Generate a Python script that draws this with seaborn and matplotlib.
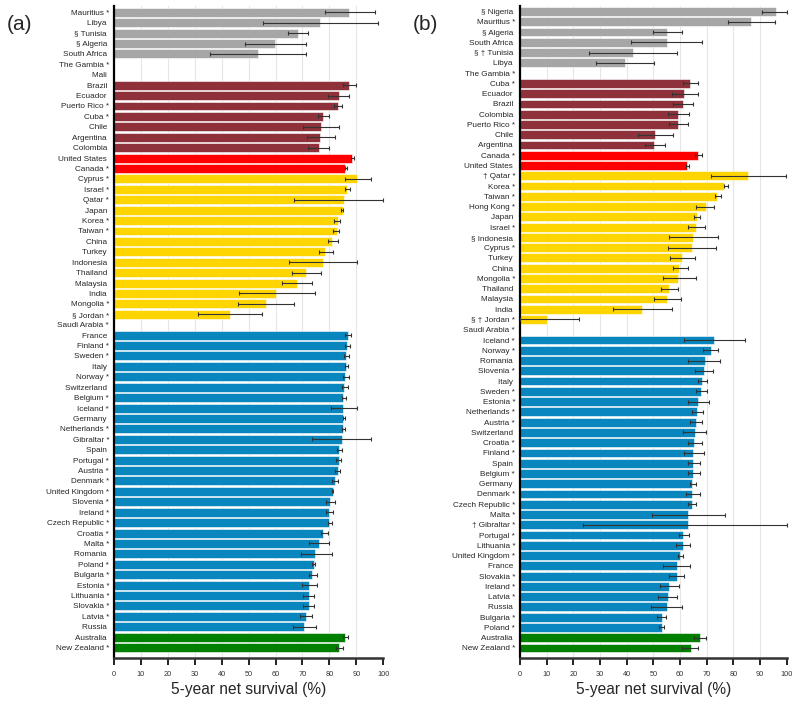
import numpy as np
import pandas as pd
import matplotlib
matplotlib.use("Agg")
import matplotlib.pyplot as plt
import seaborn as sns

nan = np.nan

# ---- panel (a) ----
countries_a = ["Mauritius *", "Libya ", "§ Tunisia ", "§ Algeria ", "South Africa ", "The Gambia *", "Mali ",
               "Brazil ", "Ecuador ", "Puerto Rico *", "Cuba *", "Chile ", "Argentina ", "Colombia ",
               "United States ", "Canada *",
               "Cyprus *", "Israel *", "Qatar *", "Japan ", "Korea *", "Taiwan *", "China ", "Turkey ",
               "Indonesia ", "Thailand ", "Malaysia ", "India ", "Mongolia *", "§ Jordan *", "Saudi Arabia *",
               "France ", "Finland *", "Sweden *", "Italy ", "Norway *", "Switzerland ", "Belgium *", "Iceland *",
               "Germany ", "Netherlands *", "Gibraltar *", "Spain ", "Portugal *", "Austria *", "Denmark *",
               "United Kingdom *", "Slovenia *", "Ireland *", "Czech Republic *", "Croatia *", "Malta *",
               "Romania ", "Poland *", "Bulgaria *", "Estonia *", "Lithuania *", "Slovakia *", "Latvia *", "Russia ",
               "Australia ", "New Zealand *"]
surv_a = [87.3, 76.6, 68.5, 59.8, 53.3, nan, nan,
          87.3, 83.4, 83.1, 77.5, 77.0, 76.6, 76.1,
          88.5, 85.9,
          90.4, 86.6, 85.4, 84.9, 83.0, 82.8, 81.1, 78.5, 77.5, 71.2, 67.9, 60.2, 56.5, 43.1, nan,
          86.8, 86.5, 86.1, 86.1, 85.9, 85.4, 85.2, 85.2, 85.2, 85.0, 84.6, 83.7, 83.6, 83.0, 82.1,
          81.3, 80.3, 80.0, 80.0, 77.8, 76.3, 74.7, 74.1, 73.7, 72.6, 72.5, 72.5, 71.2, 70.7,
          85.8, 83.6]
lo_a = [78.4, 55.5, 64.8, 48.6, 35.6, nan, nan,
        84.9, 79.4, 81.6, 75.6, 70.3, 71.6, 72.2,
        88.1, 85.6,
        85.9, 85.9, 66.9, 84.4, 81.6, 81.3, 79.4, 76.2, 65.1, 66.1, 62.5, 46.4, 46.2, 31.3, nan,
        85.6, 85.6, 85.4, 85.6, 85.0, 84.6, 84.6, 80.6, 84.9, 84.5, 73.4, 82.8, 82.5, 82.1, 81.1,
        80.9, 78.7, 78.7, 79.3, 76.8, 72.6, 69.4, 73.4, 72.6, 69.7, 70.1, 70.1, 69.1, 66.4,
        84.9, 82.6]
hi_a = [97.0, 97.9, 72.2, 71.3, 71.3, nan, nan,
        90.0, 87.3, 84.6, 80.0, 83.7, 82.1, 80.0,
        89.0, 86.5,
        95.5, 87.7, 100.0, 85.2, 84.1, 83.7, 83.0, 81.3, 90.4, 76.8, 73.4, 74.6, 67.0, 55.1, nan,
        88.1, 87.7, 87.1, 86.8, 87.1, 86.8, 86.1, 90.2, 85.9, 85.6, 95.5, 84.6, 84.4, 84.0, 83.1,
        81.5, 82.1, 81.5, 81.1, 79.4, 80.0, 81.1, 74.8, 75.3, 75.3, 74.4, 74.1, 73.6, 75.1,
        86.8, 84.9]
regions_a = (["Africa"] * 7 + ["Central and South America"] * 7 + ["North America"] * 2
             + ["Asia"] * 15 + ["Europe"] * 29 + ["Oceania"] * 2)

# ---- panel (b) ----
countries_b = ["§ Nigeria ", "Mauritius *", "§ Algeria ", "South Africa ", "§ † Tunisia ", "Libya ", "The Gambia *",
               "Cuba *", "Ecuador ", "Brazil ", "Colombia ", "Puerto Rico *", "Chile ", "Argentina ",
               "Canada *", "United States ",
               "† Qatar *", "Korea *", "Taiwan *", "Hong Kong *", "Japan ", "Israel *", "§ Indonesia ",
               "Cyprus *", "Turkey ", "China ", "Mongolia *", "Thailand ", "Malaysia ", "India ",
               "§ † Jordan *", "Saudi Arabia *",
               "Iceland *", "Norway *", "Romania ", "Slovenia *", "Italy ", "Sweden *", "Estonia *",
               "Netherlands *", "Austria *", "Switzerland ", "Croatia *", "Finland *", "Spain ", "Belgium *",
               "Germany ", "Denmark *", "Czech Republic *", "Malta *", "† Gibraltar *", "Portugal *",
               "Lithuania *", "United Kingdom *", "France ", "Slovakia *", "Ireland *", "Latvia *", "Russia ",
               "Bulgaria *", "Poland *",
               "Australia ", "New Zealand *"]
surv_b = [96.0, 86.5, 55.3, 55.0, 42.3, 39.4, nan,
          63.8, 61.5, 61.0, 59.3, 59.3, 50.8, 50.4,
          66.9, 62.5,
          85.3, 76.6, 73.8, 69.6, 66.3, 66.0, 64.8, 64.4, 60.8, 59.8, 59.1, 56.0, 55.3, 45.9, 10.0, nan,
          72.9, 71.5, 69.4, 69.1, 68.4, 67.8, 66.9, 66.5, 66.0, 65.5, 65.4, 65.0, 65.0, 64.8, 64.6,
          64.5, 64.3, 63.0, 62.8, 61.3, 61.0, 60.0, 59.0, 58.8, 56.0, 55.5, 55.0, 53.1, 53.1,
          67.4, 64.0]
lo_b = [90.6, 77.8, 50.0, 41.5, 25.8, 28.4, nan,
        61.3, 57.0, 57.5, 55.4, 55.8, 44.4, 46.9,
        65.5, 62.3,
        71.5, 76.3, 73.1, 66.0, 65.3, 62.8, 56.0, 55.6, 56.4, 57.3, 53.5, 52.8, 50.3, 35.0, 0.0, nan,
        61.6, 68.5, 63.1, 65.5, 66.9, 65.8, 62.8, 64.6, 63.8, 61.3, 62.8, 61.6, 63.1, 63.1, 63.8,
        62.3, 63.1, 49.4, 23.8, 59.8, 58.5, 59.4, 53.8, 56.0, 52.5, 51.9, 49.0, 51.5, 52.3,
        65.1, 60.7]
hi_b = [100.0, 95.6, 60.6, 68.4, 59.0, 50.4, nan,
        66.9, 66.6, 65.0, 63.4, 63.1, 57.5, 54.5,
        68.4, 63.3,
        99.6, 78.1, 75.3, 72.9, 67.5, 69.4, 74.4, 73.5, 65.6, 62.8, 65.9, 59.4, 60.3, 56.9, 22.1, nan,
        84.4, 74.4, 75.0, 72.5, 70.0, 70.0, 71.0, 68.5, 68.3, 69.6, 68.1, 69.0, 67.5, 67.3, 66.0,
        67.3, 66.0, 76.9, 100.0, 63.4, 63.8, 61.3, 63.8, 61.6, 59.5, 59.0, 60.9, 54.6, 54.0,
        69.7, 66.9]
regions_b = (["Africa"] * 7 + ["Central and South America"] * 7 + ["North America"] * 2
             + ["Asia"] * 16 + ["Europe"] * 29 + ["Oceania"] * 2)

region_colors = {
    "Africa": "#A6A6A6",
    "Central and South America": "#8E313A",
    "North America": "#FF0000",
    "Asia": "#FFD500",
    "Europe": "#0886BD",
    "Oceania": "#007F00",
}

sns.set_style("whitegrid")
plt.rcParams["font.family"] = ["Liberation Sans", "DejaVu Sans"]


def draw(ax, countries, surv, lo, hi, regions, ylim):
    df = pd.DataFrame({"country": countries, "surv": surv, "lo": lo, "hi": hi, "region": regions})
    sns.barplot(data=df, y="country", x="surv", hue="region", order=countries,
                palette=region_colors, saturation=1, dodge=False, width=0.86, legend=False,
                errorbar=None, edgecolor="white", linewidth=0.4, ax=ax)
    ypos = np.arange(len(df))
    ax.errorbar(df["surv"], ypos, xerr=[df["surv"] - df["lo"], df["hi"] - df["surv"]],
                fmt="none", ecolor="#333333", elinewidth=0.8, capsize=1.7, capthick=0.8,
                clip_on=False, zorder=5)
    ax.set_xlim(0, 100)
    ax.set_ylim(*ylim)
    ax.set_xticks(range(0, 101, 10))
    ax.grid(axis="x", color="#E6E6E6", lw=0.8)
    ax.grid(axis="y", visible=False)
    ax.set_axisbelow(True)
    for s in ["top", "right"]:
        ax.spines[s].set_visible(False)
    ax.spines["left"].set_color("black")
    ax.spines["left"].set_linewidth(1.6)
    ax.spines["bottom"].set_color("#333333")
    ax.spines["bottom"].set_linewidth(1.8)
    ax.tick_params(axis="x", bottom=True, length=5, width=1.4, color="#222222",
                   labelsize=5.3, labelcolor="#333333", pad=4.5)
    ax.tick_params(axis="y", left=False, length=0, labelsize=5.9, pad=3.5)
    ax.set_ylabel("")
    ax.set_xlabel("5-year net survival (%)", fontsize=11.2, labelpad=3)


fig = plt.figure(figsize=(8, 7.07), dpi=100)
ax_a = fig.add_axes([0.1425, 0.0693, 0.3366, 0.9222])
ax_b = fig.add_axes([0.65, 0.0693, 0.3334, 0.9222])

draw(ax_a, countries_a, surv_a, lo_a, hi_a, regions_a, (62.0, -0.6))
draw(ax_b, countries_b, surv_b, lo_b, hi_b, regions_b, (62.98, -0.54))

fig.text(19 / 800, 1 - 24 / 707, "(a)", ha="center", va="center", fontsize=15)
fig.text(425 / 800, 1 - 24 / 707, "(b)", ha="center", va="center", fontsize=15)

fig.savefig("out.png", dpi=100)
